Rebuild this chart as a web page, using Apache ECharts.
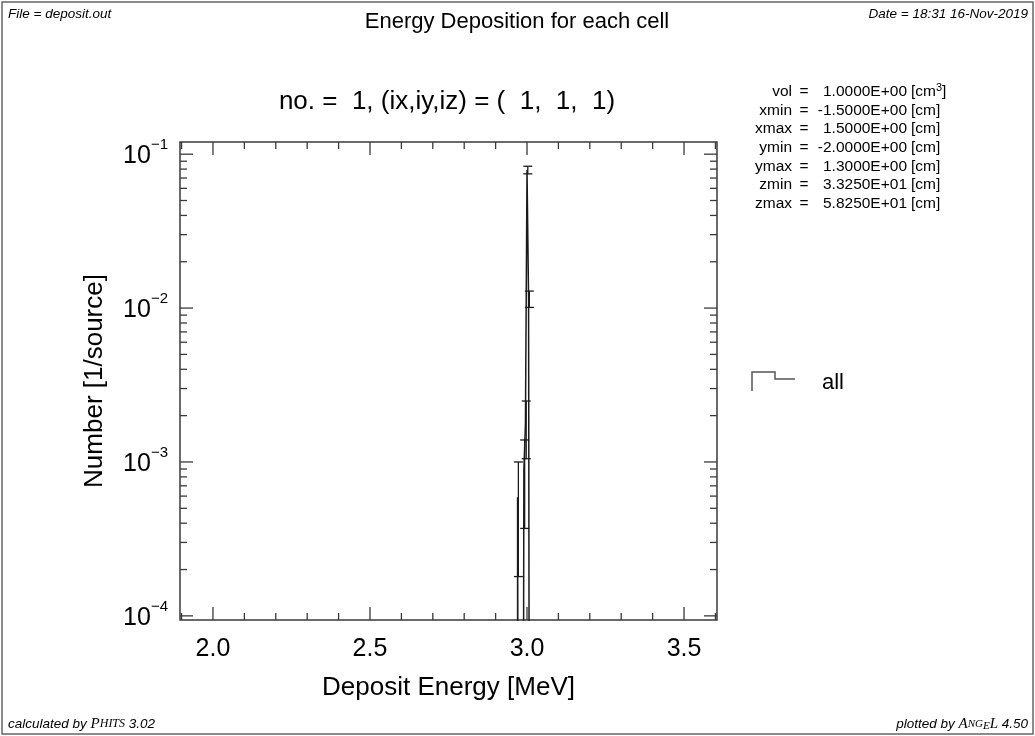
<!DOCTYPE html>
<html><head><meta charset="utf-8">
<script src="https://cdn.jsdelivr.net/npm/echarts@6/dist/echarts.min.js"></script>
<style>html,body{margin:0;padding:0;background:#fff}#c{width:1035px;height:736px}</style>
</head><body><div id="c"></div>
<script>
const FONT = '"Liberation Sans", Arial, Helvetica, sans-serif';
const SERIF = '"Liberation Serif", "DejaVu Serif", serif';

// ---------------- data ----------------
const binEdges  = [2.970, 2.975, 2.980, 2.985, 2.990, 2.995, 3.000, 3.005, 3.010, 3.015];
const binValues = [5.9e-4, 0, 0, 0, 8.8e-4, 1.77e-3, 7.9e-2, 1.15e-2, 0];
const binErrors = [4.1e-4, 0, 0, 0, 5.1e-4, 7.2e-4, 4.5e-3, 1.4e-3, 0];
const xTickLabels = ['2.0', '2.5', '3.0', '3.5'];
const yTickDecades = [-4, -3, -2, -1];
const infoLabels = ['vol', 'xmin', 'xmax', 'ymin', 'ymax', 'zmin', 'zmax'];
const infoValues = ['1.0000E+00', '-1.5000E+00', '1.5000E+00', '-2.0000E+00', '1.3000E+00', '3.3250E+01', '5.8250E+01'];
const infoUnits  = ['cm3', 'cm', 'cm', 'cm', 'cm', 'cm', 'cm'];
const seriesName = 'all';
const titleText = 'Energy Deposition for each cell';
const subTitleText = 'no. =  1, (ix,iy,iz) = (  1,  1,  1)';
const fileText = 'File = deposit.out';
const dateText = 'Date = 18:31 16-Nov-2019';
const xName = 'Deposit Energy [MeV]';
const yName = 'Number [1/source]';

// axis ranges
const X_MIN = 1.895, X_MAX = 3.605, X_LABEL_STEP = 0.005, X_MINOR = 0.1;
const Y_MIN = 9.4e-5, Y_MAX = 0.12;
const FLOOR = 1e-9; // zero bins plotted below the axis (log scale)

// ---------------- derived ----------------
const stepData = [[binEdges[0], FLOOR]];
binValues.forEach((v, i) => stepData.push([binEdges[i], v > 0 ? v : FLOOR]));
stepData.push([binEdges[binEdges.length - 1], FLOOR]);

const errData = [];
binValues.forEach((v, i) => {
  if (v > 0) {
    const c = (binEdges[i] + binEdges[i + 1]) / 2;
    errData.push([c, v - binErrors[i], v + binErrors[i]]);
  }
});

const xMajor = xTickLabels.map(Number);
const tickData = [];
xMajor.forEach(v => tickData.push([v, 1e-3, 0]));
for (let k = Math.ceil(X_MIN / X_MINOR - 1e-9); k <= Math.floor(X_MAX / X_MINOR + 1e-9); k++) {
  const v = k * X_MINOR;
  if (!xMajor.some(m => Math.abs(m - v) < 1e-6)) tickData.push([v, 1e-3, 1]);
}
yTickDecades.forEach(d => tickData.push([2.5, Math.pow(10, d), 2]));
for (let d = -5; d <= 0; d++) {
  for (let m = 2; m <= 9; m++) {
    const v = m * Math.pow(10, d);
    if (v > Y_MIN && v < Y_MAX) tickData.push([2.5, v, 3]);
  }
}

const chart = echarts.init(document.getElementById('c'), null, { renderer: 'canvas' });

function renderTicks(params, api) {
  const cs = params.coordSys;
  const kind = api.value(2);
  const style = { stroke: '#3a3a3a', lineWidth: 1.3 };
  if (kind < 2) {
    const x = api.coord([api.value(0), 1e-3])[0];
    const len = kind === 0 ? 13 : 7;
    return { type: 'group', children: [
      { type: 'line', shape: { x1: x, y1: cs.y + cs.height, x2: x, y2: cs.y + cs.height - len }, style },
      { type: 'line', shape: { x1: x, y1: cs.y, x2: x, y2: cs.y + len }, style }
    ] };
  }
  const y = api.coord([2.5, api.value(1)])[1];
  const len = kind === 2 ? 13 : 7;
  return { type: 'group', children: [
    { type: 'line', shape: { x1: cs.x, y1: y, x2: cs.x + len, y2: y }, style },
    { type: 'line', shape: { x1: cs.x + cs.width, y1: y, x2: cs.x + cs.width - len, y2: y }, style }
  ] };
}

function renderErr(params, api) {
  const c = api.value(0);
  const lo = api.coord([c, api.value(1)]);
  const hi = api.coord([c, api.value(2)]);
  const w = 4.5;
  const style = { stroke: '#1a1a1a', lineWidth: 1.3 };
  return { type: 'group', children: [
    { type: 'line', shape: { x1: lo[0], y1: lo[1], x2: hi[0], y2: hi[1] }, style },
    { type: 'line', shape: { x1: lo[0] - w, y1: lo[1], x2: lo[0] + w, y2: lo[1] }, style },
    { type: 'line', shape: { x1: hi[0] - w, y1: hi[1], x2: hi[0] + w, y2: hi[1] }, style }
  ] };
}

const smallItalic = { fontFamily: FONT, fontStyle: 'italic', fontSize: 13.5, fill: '#000' };

const graphics = [
  { type: 'rect', shape: { x: 2, y: 2, width: 1031, height: 732 }, style: { fill: 'none', stroke: '#666', lineWidth: 1.5 }, silent: true },
  { type: 'text', x: 8, y: 14, style: Object.assign({ text: fileText, verticalAlign: 'middle' }, smallItalic) },
  { type: 'text', x: 1028, y: 14, style: Object.assign({ text: dateText, align: 'right', verticalAlign: 'middle' }, smallItalic) },
  { type: 'text', x: 517, y: 22, style: { text: titleText, fontFamily: FONT, fontSize: 22, fill: '#000', align: 'center', verticalAlign: 'middle' } },
  { type: 'text', x: 447, y: 102, style: { text: subTitleText, fontFamily: FONT, fontSize: 26, fill: '#000', align: 'center', verticalAlign: 'middle' } },
  { type: 'text', x: 8, y: 724, style: { text: '{i|calculated by }{p|P}{q|HITS}{i| 3.02}', verticalAlign: 'middle',
      rich: { i: { fontFamily: FONT, fontStyle: 'italic', fontSize: 13.5, fill: '#000' },
              p: { fontFamily: SERIF, fontStyle: 'italic', fontSize: 15, fill: '#000' },
              q: { fontFamily: SERIF, fontStyle: 'italic', fontSize: 12, fill: '#000' } } } },
  { type: 'text', x: 1028, y: 724, style: { text: '{i|plotted by }{p|A}{q|NG}{e|E}{p|L}{i| 4.50}', align: 'right', verticalAlign: 'middle',
      rich: { i: { fontFamily: FONT, fontStyle: 'italic', fontSize: 13.5, fill: '#000' },
              p: { fontFamily: SERIF, fontStyle: 'italic', fontSize: 15, fill: '#000' },
              q: { fontFamily: SERIF, fontStyle: 'italic', fontSize: 11, fill: '#000' },
              e: { fontFamily: SERIF, fontStyle: 'italic', fontSize: 11, fill: '#000', verticalAlign: 'bottom' } } } },
  // legend
  { type: 'polyline', shape: { points: [[752, 391], [752, 372], [775, 372], [775, 379], [795, 379]] }, style: { fill: 'none', stroke: '#555', lineWidth: 1.5 } },
  { type: 'text', x: 822, y: 383, style: { text: seriesName, fontFamily: FONT, fontSize: 22, fill: '#000', verticalAlign: 'middle' } }
];

infoLabels.forEach((lab, i) => {
  const y = 92 + i * 18.6;
  const base = { fontFamily: FONT, fontSize: 15.5, fill: '#000', verticalAlign: 'middle' };
  graphics.push({ type: 'text', x: 792, y, style: Object.assign({ text: lab, align: 'right' }, base) });
  graphics.push({ type: 'text', x: 804, y, style: Object.assign({ text: '=', align: 'center' }, base) });
  graphics.push({ type: 'text', x: 907, y, style: Object.assign({ text: infoValues[i], align: 'right' }, base) });
  const u = infoUnits[i];
  const m = u.match(/^([a-z]+)(\d)$/);
  if (m) {
    graphics.push({ type: 'text', x: 911, y, style: { text: '{a|[' + m[1] + '}{s|' + m[2] + '}{a|]}', verticalAlign: 'middle',
      rich: { a: Object.assign({}, base, { lineHeight: 19 }), s: { fontFamily: FONT, fontSize: 11, fill: '#000', verticalAlign: 'top', lineHeight: 11 } } } });
  } else {
    graphics.push({ type: 'text', x: 911, y, style: Object.assign({ text: '[' + u + ']', align: 'left' }, base) });
  }
});

const option = {
  backgroundColor: '#fff',
  animation: false,
  grid: { left: 180, top: 142, width: 537, height: 478, show: true, borderColor: '#3a3a3a', borderWidth: 1.5, backgroundColor: 'transparent' },
  xAxis: {
    type: 'value', min: X_MIN, max: X_MAX, interval: X_LABEL_STEP,
    name: xName, nameLocation: 'middle', nameGap: 55,
    nameTextStyle: { fontFamily: FONT, fontSize: 26, color: '#000' },
    axisLine: { show: false }, axisTick: { show: false }, splitLine: { show: false },
    axisLabel: {
      interval: 0, margin: 17, fontFamily: FONT, fontSize: 25, color: '#000', hideOverlap: false,
      showMinLabel: true, showMaxLabel: true,
      formatter: v => {
        const idx = xMajor.findIndex(m => Math.abs(m - v) < 1e-6);
        return idx >= 0 ? xTickLabels[idx] : '';
      }
    }
  },
  yAxis: {
    type: 'log', logBase: 10, min: Y_MIN, max: Y_MAX,
    name: yName, nameLocation: 'middle', nameGap: 72, nameRotate: 90,
    nameTextStyle: { fontFamily: FONT, fontSize: 26, color: '#000' },
    axisLine: { show: false }, axisTick: { show: false }, splitLine: { show: false },
    axisLabel: {
      margin: 12, color: '#000', hideOverlap: false,
      formatter: v => {
        const lg = Math.log10(v);
        const r = Math.round(lg);
        if (Math.abs(lg - r) > 1e-6 || yTickDecades.indexOf(r) < 0) return '';
        return '{b|10}{s|' + (r < 0 ? '\u2212' : '') + Math.abs(r) + '}';
      },
      rich: {
        b: { fontFamily: FONT, fontSize: 25, color: '#000', lineHeight: 34, padding: [4, 0, 0, 0] },
        s: { fontFamily: FONT, fontSize: 15, color: '#000', verticalAlign: 'top', lineHeight: 15 }
      }
    }
  },
  series: [
    { name: seriesName, type: 'line', step: 'end', data: stepData, showSymbol: false, symbol: 'none',
      lineStyle: { color: '#1a1a1a', width: 1.5 }, clip: true, z: 3 },
    { type: 'custom', name: 'err', renderItem: renderErr, data: errData, clip: true, z: 4,
      encode: { x: 0, y: [1, 2] } },
    { type: 'custom', name: 'ticks', renderItem: renderTicks, data: tickData, clip: false, silent: true, z: 5,
      encode: { x: 0, y: 1 } }
  ],
  graphic: graphics
};
chart.setOption(option);
</script></body></html>
